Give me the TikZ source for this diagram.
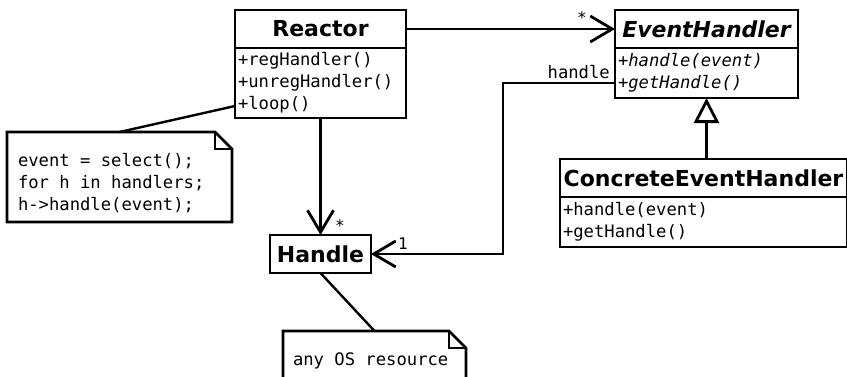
\documentclass[tikz,border=0pt]{standalone}
\usepackage{fontspec}
\setmainfont{DejaVu Sans}
\setmonofont{DejaVu Sans Mono}
\usetikzlibrary{arrows.meta, positioning}

\begin{document}
\begin{tikzpicture}[x=1pt, y=-1pt,
    classhead/.style={draw, line width=2.8pt, anchor=north west, outer sep=0pt, inner sep=0pt,
        minimum height=38pt, font=\fontsize{22}{26}\selectfont\bfseries},
    classbody/.style={draw, line width=2.8pt, outer sep=0pt, inner xsep=3pt, inner ysep=0pt,
        align=flush left, font=\fontsize{17.2}{22}\selectfont\ttfamily},
    notebox/.style={anchor=north west, outer sep=0pt, inner xsep=11pt, inner ysep=0pt,
        align=flush left, font=\fontsize{17.2}{22}\selectfont\ttfamily},
    noteline/.style={line width=2.8pt, line join=miter},
    assoc/.style={line width=2.8pt, -{Straight Barb[length=22pt, width=26pt]}},
    inherit/.style={line width=2.8pt, -{Triangle[open, length=25pt, width=25pt, fill=white]}},
    mult/.style={inner sep=0pt, anchor=base, font=\fontsize{16}{19}\selectfont\ttfamily}]

    \useasboundingbox (0,0) rectangle (847,376);

    % classes
    \node[classhead, minimum width=171pt] (reactor) at (235,10) {Reactor};
    \node[classbody, text width=165pt, minimum height=70pt, below=0pt of reactor] (reactorops)
        {+regHandler()\\+unregHandler()\\+loop()};

    \node[classhead, minimum width=183pt, font=\fontsize{22}{26}\selectfont\bfseries\itshape] (evh) at (615,10) {EventHandler};
    \node[classbody, text width=177pt, minimum height=50pt, below=0pt of evh,
        font=\fontsize{17.2}{22}\selectfont\ttfamily\itshape] (evhops)
        {+handle(event)\\+getHandle()};

    \node[classhead, minimum width=287pt] (concrete) at (560,159) {ConcreteEventHandler};
    \node[classbody, text width=281pt, minimum height=50pt, below=0pt of concrete] (concreteops)
        {+handle(event)\\+getHandle()};

    \node[classhead, minimum width=101pt] (handle) at (270,235) {Handle};

    % notes
    \node[notebox, text width=203pt] (loopnote) at (7,132)
        {\rule{0pt}{34.7pt}event = select();\\for h in handlers;\\h->handle(event);\rule[-11.3pt]{0pt}{11.3pt}};
    \node[notebox, inner xsep=10pt, text width=163pt] (osnote) at (283,331)
        {\rule[-14pt]{0pt}{48pt}any OS resource};

    \foreach \n in {loopnote, osnote} {
        \draw[noteline] (\n.north west) -- ([xshift=-17pt]\n.north east) -- ([yshift=-17pt]\n.north east)
            -- (\n.south east) -- (\n.south west) -- cycle;
        \draw[noteline] ([xshift=-17pt]\n.north east) |- ([yshift=-17pt]\n.north east);
    }

    % associations
    \draw[assoc] (reactor.east) -- (evh.west);
    \draw[assoc] (reactorops.south) -- (handle.north);
    \coordinate (bend) at ([xshift=132pt]handle.east);
    \draw[assoc] ([yshift=-10pt]evhops.west) -| (bend) -- (handle.east);

    % generalization
    \draw[inherit] (concrete.north -| evhops.south) -- (evhops.south);

    % note links
    \draw[line width=2.4pt] ([yshift=-23pt]reactorops.west) -- (loopnote.north);
    \draw[line width=2.4pt] (handle.south) -- (osnote.north);

    % multiplicities and role
    \node[mult] (evhmult) at (582,23) {*};
    \node[mult] (handlemult) at (340,231) {*};
    \node[mult] (handleone) at (403,249) {1};
    \node[anchor=base east, inner sep=0pt, font=\fontsize{17.2}{22}\selectfont\ttfamily] (rolename) at (610,78) {handle};

\end{tikzpicture}
\end{document}
